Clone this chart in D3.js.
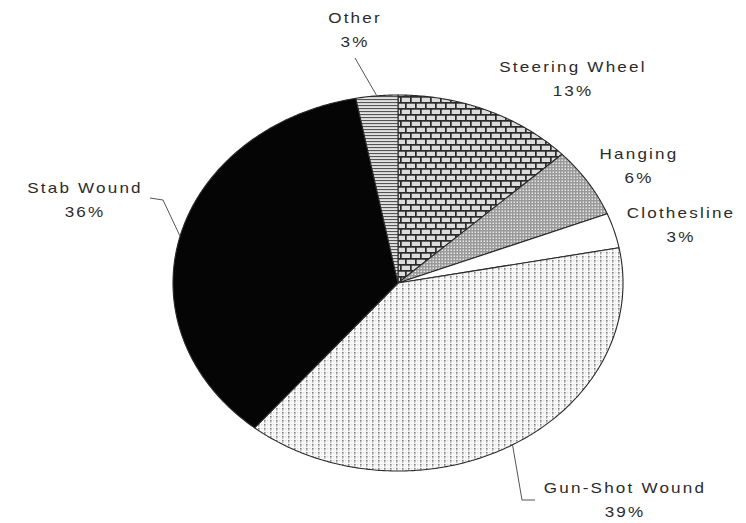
<!DOCTYPE html>
<html>
<head>
<meta charset="utf-8">
<script src="https://cdn.jsdelivr.net/npm/d3@7/dist/d3.min.js"></script>
<style>
  html, body { margin: 0; padding: 0; background: #fff; }
  svg { display: block; }
  text { font-family: "Liberation Sans", Arial, sans-serif; }
</style>
</head>
<body>
<svg id="chart" width="746" height="523"></svg>
<script>
// Injury mechanism shares, clockwise from 12 o'clock
const categories = ["Steering Wheel", "Hanging", "Clothesline", "Gun-Shot Wound", "Stab Wound", "Other"];
const values = [13, 6, 3, 39, 36, 3];
const percentLabels = values.map(v => v + "%");

// Layout
const W = 746, H = 523;
const cx = 398, cy = 283, rx = 225, ry = 188;

// Label anchors (name baseline) and optional leader polylines (pie-edge end added from the slice angle)
const labelLayout = [
  { x: 573, y: 72,  leader: null },
  { x: 639, y: 159, leader: null },
  { x: 681, y: 218, leader: null },
  { x: 625, y: 493, leader: [[535, 500], [522, 500]] },
  { x: 85,  y: 193, leader: [[150, 198], [163, 200]] },
  { x: 355, y: 23,  leader: [[355, 58]] }
];

const fills = ["url(#brick)", "url(#fineDots)", "#ffffff", "url(#gridDots)", "#050505", "url(#hlines)"];

const svg = d3.select("#chart");
const defs = svg.append("defs");

// Brick pattern
const brick = defs.append("pattern").attr("id", "brick")
  .attr("patternUnits", "userSpaceOnUse").attr("width", 10).attr("height", 12);
brick.append("rect").attr("width", 10).attr("height", 12).attr("fill", "#dcdcdc");
brick.append("rect").attr("x", 0).attr("y", 0).attr("width", 10).attr("height", 1.7).attr("fill", "#2a2a2a");
brick.append("rect").attr("x", 0).attr("y", 6).attr("width", 10).attr("height", 1.7).attr("fill", "#2a2a2a");
brick.append("rect").attr("x", 0).attr("y", 0).attr("width", 1.7).attr("height", 6).attr("fill", "#2a2a2a");
brick.append("rect").attr("x", 5).attr("y", 6).attr("width", 1.7).attr("height", 6).attr("fill", "#2a2a2a");

// Fine stipple
const fine = defs.append("pattern").attr("id", "fineDots")
  .attr("patternUnits", "userSpaceOnUse").attr("width", 3).attr("height", 3);
fine.append("rect").attr("width", 3).attr("height", 3).attr("fill", "#999");
fine.append("rect").attr("x", 0.5).attr("y", 0.5).attr("width", 1.5).attr("height", 1.5).attr("fill", "#e6e6e6");

// Sparse dot grid
const grid = defs.append("pattern").attr("id", "gridDots")
  .attr("patternUnits", "userSpaceOnUse").attr("width", 6).attr("height", 4);
grid.append("rect").attr("width", 6).attr("height", 4).attr("fill", "#fafafa");
grid.append("rect").attr("x", 0).attr("y", 0).attr("width", 1.6).attr("height", 1.6).attr("fill", "#808080");
grid.append("rect").attr("x", 0).attr("y", 2).attr("width", 1.4).attr("height", 1.2).attr("fill", "#c0c0c0");
grid.append("rect").attr("x", 3).attr("y", 0).attr("width", 1.4).attr("height", 1.2).attr("fill", "#d8d8d8");

// Horizontal rules
const hl = defs.append("pattern").attr("id", "hlines")
  .attr("patternUnits", "userSpaceOnUse").attr("width", 4).attr("height", 3);
hl.append("rect").attr("width", 4).attr("height", 3).attr("fill", "#e2e2e2");
hl.append("rect").attr("y", 0).attr("width", 4).attr("height", 1.1).attr("fill", "#555");

// Pie layout (keep the given order)
const pie = d3.pie().sort(null).value(d => d);
const arcs = pie(values);

const onEllipse = a => [cx + rx * Math.sin(a), cy - ry * Math.cos(a)];
const line = d3.line();

function slicePath(d) {
  const n = Math.max(2, Math.ceil((d.endAngle - d.startAngle) / 0.01));
  const pts = [[cx, cy]];
  for (let i = 0; i <= n; i++) {
    pts.push(onEllipse(d.startAngle + (d.endAngle - d.startAngle) * i / n));
  }
  return line(pts) + "Z";
}

svg.append("g").selectAll("path")
  .data(arcs)
  .join("path")
  .attr("d", slicePath)
  .attr("fill", (d, i) => fills[i])
  .attr("stroke", "#2a2a2a")
  .attr("stroke-width", 1.1)
  .attr("stroke-linejoin", "round");

// Leader lines
const leaders = svg.append("g")
  .attr("fill", "none").attr("stroke", "#555").attr("stroke-width", 1);
arcs.forEach((d, i) => {
  const L = labelLayout[i];
  if (!L.leader) return;
  const mid = (d.startAngle + d.endAngle) / 2;
  const pts = L.leader.concat([onEllipse(mid)]);
  leaders.append("path").attr("d", line(pts));
});

// Labels
const labels = svg.append("g")
  .attr("fill", "#2b2b2b")
  .attr("font-size", 14)
  .attr("text-anchor", "middle")
  .attr("letter-spacing", 1.8);

categories.forEach((c, i) => {
  const L = labelLayout[i];
  const g = labels.append("g").attr("transform", `translate(${L.x},${L.y}) scale(1.22,1)`);
  g.append("text").attr("x", 0).attr("y", 0).text(c);
  g.append("text").attr("x", 0).attr("y", 24).text(percentLabels[i]);
});
</script>
</body>
</html>
